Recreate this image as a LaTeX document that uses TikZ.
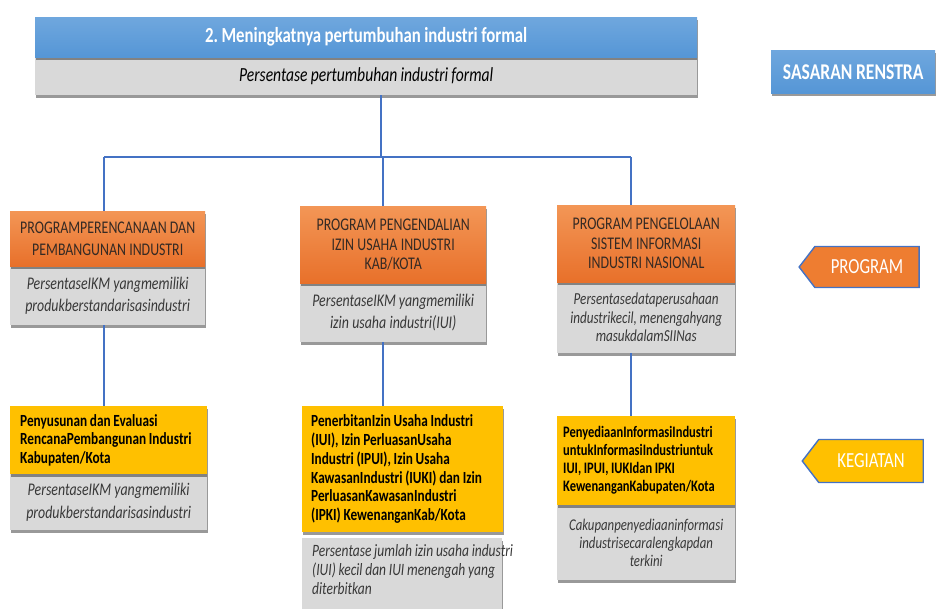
\documentclass[tikz,border=0pt]{standalone}
\usepackage{fontspec}
\setmainfont{Carlito}[FakeStretch=0.78]
\usetikzlibrary{shadows,shapes.symbols}
\definecolor{lineblue}{HTML}{4472C4}
\definecolor{headblue}{HTML}{5596D6}
\definecolor{headblueTop}{HTML}{6FA7DE}
\definecolor{subgray}{HTML}{D9D9D9}
\definecolor{orgTop}{HTML}{F39656}
\definecolor{orgBot}{HTML}{E8702A}
\definecolor{orgFlat}{HTML}{EE7D31}
\definecolor{ylw}{HTML}{FFC000}
\definecolor{txtdark}{HTML}{352A24}
\definecolor{txtgray}{HTML}{383838}
\frenchspacing
\begin{document}
\begin{tikzpicture}[x=1pt,y=-1pt,
  every node/.append style={execute at begin node={\frenchspacing\spaceskip=0.16em plus 0.04em\relax}},
  shadowed/.style={drop shadow={shadow xshift=0.5pt,shadow yshift=-3pt,opacity=0.4,fill=black}},
  basebox/.style={anchor=north west,inner ysep=0pt,inner xsep=5pt,shadowed},
  bluehead/.style={basebox,top color=headblueTop,bottom color=headblue,text=white,align=center,
    font=\fontsize{21.5}{24}\selectfont\bfseries},
  graysub/.style={basebox,fill=subgray,text=black,align=center,
    font=\fontsize{20}{22}\selectfont\itshape},
  orangebox/.style={basebox,top color=orgTop,bottom color=orgBot,text=txtdark,align=center,
    font=\fontsize{17.8}{19.5}\selectfont},
  yellowbox/.style={basebox,fill=ylw,text=black,align=left,inner xsep=10pt,
    font=\fontsize{17}{18.5}\selectfont\bfseries},
  grayind/.style={basebox,fill=subgray,text=txtgray,align=center,
    font=\fontsize{17.8}{22.5}\selectfont\itshape},
  tag/.style={signal,signal to=west,signal pointer angle=105,draw=lineblue,line width=1.4pt,
    text=white,inner sep=0pt,font=\fontsize{21.5}{24}\selectfont},
  link/.style={draw=lineblue,line width=2.2pt}]
\useasboundingbox (0,0) rectangle (936,608);

% goal header (single-line titles kept as plain boxes so spacing stays tight)
\node[graysub,minimum width=662pt,minimum height=38pt] (goalsub) at (35,57)
  {Persentase pertumbuhan industri formal};
\node[bluehead,minimum width=662pt,minimum height=40pt] (goal) at (35,17)
  {2. Meningkatnya pertumbuhan industri formal};
\node[bluehead,minimum width=164pt,minimum height=43pt,font=\fontsize{22.5}{25}\selectfont\bfseries] (sasaran) at (771,50)
  {SASARAN RENSTRA};

% bus coordinates
\coordinate (c0) at (381,157);
\coordinate (c1) at (104,157);
\coordinate (c2) at (383,157);
\coordinate (c3) at (631,157);

% programmes
\node[grayind,text width=185pt,minimum height=59pt] (p1g) at (10,266)
  {PersentaseIKM yangmemiliki\\produkberstandarisasindustri};
\node[orangebox,text width=185pt,minimum height=55pt,font=\fontsize{17.8}{22}\selectfont] (p1) at (10,211)
  {PROGRAMPERENCANAAN DAN\\PEMBANGUNAN INDUSTRI};

\node[grayind,text width=176pt,minimum height=59pt] (p2g) at (300,283)
  {PersentaseIKM yangmemiliki\\izin usaha industri(IUI)};
\node[orangebox,text width=176pt,minimum height=77pt] (p2) at (300,206)
  {PROGRAM PENGENDALIAN\\IZIN USAHA INDUSTRI\\KAB/KOTA};

\node[grayind,text width=168pt,minimum height=71pt,font=\fontsize{16.8}{18.5}\selectfont\itshape] (p3g) at (557,282)
  {Persentasedataperusahaan\\industrikecil, menengahyang\\masukdalamSIINas};
\node[orangebox,text width=168pt,minimum height=77pt] (p3) at (557,205)
  {PROGRAM PENGELOLAAN\\SISTEM INFORMASI\\INDUSTRI NASIONAL};

% activities
\node[grayind,text width=187pt,minimum height=56pt] (k1g) at (10,474)
  {PersentaseIKM yangmemiliki\\produkberstandarisasindustri};
\node[yellowbox,text width=177pt,minimum height=68pt] (k1) at (10,406)
  {Penyusunan dan Evaluasi\\RencanaPembangunan Industri\\Kabupaten/Kota};

\node[basebox,fill=subgray,minimum width=200pt,minimum height=80pt,inner sep=0pt] (k2g) at (302,538) {};
\node[anchor=north west,inner sep=0pt,align=left,text=txtgray,font=\fontsize{17.3}{19}\selectfont\itshape] (k2gt) at (312,544)
  {Persentase jumlah izin usaha industri\\(IUI) kecil dan IUI menengah yang\\diterbitkan};
\node[yellowbox,text width=183pt,inner xsep=9pt,minimum height=126pt,font=\fontsize{17}{18.7}\selectfont\bfseries] (k2) at (302,406)
  {PenerbitanIzin Usaha Industri\\(IUI), Izin PerluasanUsaha\\Industri (IPUI), Izin Usaha\\KawasanIndustri (IUKI) dan Izin\\PerluasanKawasanIndustri\\(IPKI) KewenanganKab/Kota};

\node[grayind,text width=168pt,minimum height=75pt,font=\fontsize{16.4}{17.8}\selectfont\itshape] (k3g) at (557,505)
  {Cakupanpenyediaaninformasi\\industrisecaralengkapdan\\terkini};
\node[yellowbox,text width=166pt,minimum height=89pt,inner xsep=6pt,font=\fontsize{16}{18}\selectfont\bfseries] (k3) at (557,416)
  {PenyediaanInformasiIndustri\\untukInformasiIndustriuntuk\\IUI, IPUI, IUKIdan IPKI\\KewenanganKabupaten/Kota};

% level tags
\node[tag,fill=orgFlat,minimum width=120pt,minimum height=41pt] (tprog) at (867,267) {PROGRAM};
\node[tag,fill=ylw,minimum width=121pt,minimum height=43pt] (tkeg) at (871,461) {KEGIATAN};

% connectors
\path[link] (c0 |- goalsub.south) -- (c0);
\path[link] (c1) -- (c3);
\path[link] (c1) -- (c1 |- p1.north);
\path[link] (c2) -- (c2 |- p2.north);
\path[link] (c3) -- (c3 |- p3.north);
\path[link] (c1 |- p1g.south) -- (c1 |- k1.north);
\path[link] (c2 |- p2g.south) -- (c2 |- k2.north);
\path[link] (c3 |- p3g.south) -- (c3 |- k3.north);
\end{tikzpicture}
\end{document}
